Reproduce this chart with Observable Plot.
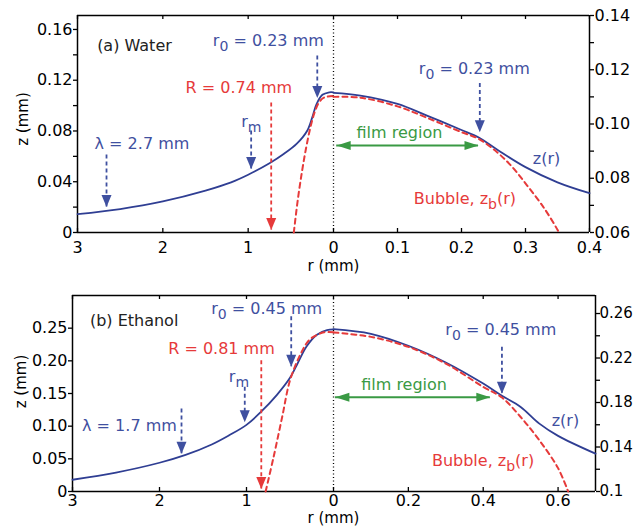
<!DOCTYPE html>
<html><head><meta charset="utf-8">
<script src="https://cdn.jsdelivr.net/npm/d3@7"></script>
<script src="https://cdn.jsdelivr.net/npm/@observablehq/plot@0.6"></script>
<style>
body{margin:0;background:#fff;}
#chart{position:relative;width:634px;height:527px;overflow:hidden;}
#chart svg{position:absolute;left:0;}
</style></head><body><div id="chart"></div>
<script>
// ---------- DATA (a) Water ----------
const waterLeftBlueR = [3, 2.5, 2, 1.5, 1.2, 1, 0.75, 0.58, 0.43, 0.31, 0.25, 0.2, 0.13, 0.05, 0];
const waterLeftBlueZ = [0.0145, 0.0185, 0.0245, 0.033, 0.0395, 0.0455, 0.0545, 0.062, 0.070, 0.080, 0.0905, 0.101, 0.1085, 0.1105, 0.1105];
const waterLeftRedR = [0.465, 0.42, 0.367, 0.32, 0.27, 0.22, 0.17, 0.12, 0.074, 0];
const waterLeftRedZ = [0, 0.025, 0.049, 0.067, 0.083, 0.095, 0.1025, 0.106, 0.107, 0.1075];
const waterRightBlueR = [0, 0.042, 0.1, 0.146, 0.2, 0.227, 0.256, 0.30, 0.35, 0.4];
const waterRightBlueZ = [0.1115, 0.1105, 0.1074, 0.1031, 0.0978, 0.0950, 0.0905, 0.0841, 0.0785, 0.0745];
const waterRightRedR = [0, 0.042, 0.1, 0.146, 0.2, 0.227, 0.256, 0.278, 0.302, 0.329, 0.35, 0.352];
const waterRightRedZ = [0.110, 0.1097, 0.1065, 0.1023, 0.097, 0.0945, 0.0895, 0.0845, 0.0775, 0.0690, 0.0610, 0.060];

// ---------- DATA (b) Ethanol ----------
const ethanolLeftBlueR = [3, 2.5, 2, 1.7, 1.4, 1.2, 1.0, 0.84, 0.65, 0.5, 0.42, 0.31, 0.19, 0.075, 0];
const ethanolLeftBlueZ = [0.018, 0.029, 0.044, 0.056, 0.072, 0.086, 0.102, 0.121, 0.148, 0.174, 0.194, 0.222, 0.240, 0.247, 0.248];
const ethanolLeftRedR = [0.78, 0.69, 0.59, 0.5, 0.38, 0.27, 0.11, 0];
const ethanolLeftRedZ = [0, 0.052, 0.114, 0.17, 0.21, 0.233, 0.2436, 0.2436];
const ethanolRightBlueR = [0, 0.1, 0.2, 0.3, 0.4, 0.45, 0.5, 0.55, 0.6, 0.7];
const ethanolRightBlueZ = [0.246, 0.2418, 0.231, 0.216, 0.197, 0.186, 0.176, 0.161, 0.150, 0.134];
const ethanolRightRedR = [0, 0.1, 0.2, 0.3, 0.4, 0.45, 0.5, 0.55, 0.6, 0.627];
const ethanolRightRedZ = [0.243, 0.239, 0.230, 0.215, 0.194, 0.1845, 0.167, 0.146, 0.121, 0.1];

// ---------- TICKS ----------
const waterLeftYTicks = [0, 0.02, 0.04, 0.06, 0.08, 0.10, 0.12, 0.14, 0.16];
const waterLeftYLabels = ["0", "", "0.04", "", "0.08", "", "0.12", "", "0.16"];
const waterRightYTicks = [0.06, 0.07, 0.08, 0.09, 0.10, 0.11, 0.12, 0.13, 0.14];
const waterRightYLabels = ["0.06", "", "0.08", "", "0.10", "", "0.12", "", "0.14"];
const ethanolLeftYTicks = [0, 0.05, 0.10, 0.15, 0.20, 0.25];
const ethanolLeftYLabels = ["0", "0.05", "0.10", "0.15", "0.20", "0.25"];
const ethanolRightYTicks = [0.10, 0.12, 0.14, 0.16, 0.18, 0.20, 0.22, 0.24, 0.26];
const ethanolRightYLabels = ["0.1", "", "0.14", "", "0.18", "", "0.22", "", "0.26"];
const leftXTicks = [3, 2, 1, 0];
const leftXLabels = ["3", "2", "1", "0"];
const waterRightXTicks = [0.1, 0.2, 0.3, 0.4];
const waterRightXLabels = ["0.1", "0.2", "0.3", "0.4"];
const ethanolRightXTicks = [0.2, 0.4, 0.6];
const ethanolRightXLabels = ["0.2", "0.4", "0.6"];

// ---------- ANNOTATIONS ----------
const waterLeftTexts = ["(a) Water", "r_{0} = 0.23 mm", "R = 0.74 mm", "r_{m}", "λ = 2.7 mm"];
const waterLeftTextKinds = ["title", "blue", "red", "blue", "blue"];
const waterLeftTextR = [2.77, 1.414, 1.734, 1.082, 2.80];
const waterLeftTextZ = [0.147, 0.1513, 0.1143, 0.0875, 0.070];
const waterLeftArrowKinds = ["blue", "red", "blue", "blue"];
const waterLeftArrowR = [0.19, 0.73, 0.965, 2.66];
const waterLeftArrowTop = [0.139, 0.102, 0.080, 0.061];
const waterLeftArrowTip = [0.106, 0.002, 0.050, 0.020];

const waterRightTexts = ["r_{0} = 0.23 mm", "film region", "z(r)", "Bubble, z_{b}(r)"];
const waterRightTextKinds = ["blue", "green", "blue", "red"];
const waterRightTextR = [0.1333, 0.036, 0.3115, 0.1255];
const waterRightTextZ = [0.1205, 0.0969, 0.0873, 0.0725];
const waterRightArrowKinds = ["blue"];
const waterRightArrowR = [0.2286];
const waterRightArrowTop = [0.1149];
const waterRightArrowTip = [0.097];
const waterFilm = {r1: 0.005, r2: 0.2266, z: 0.0921};

const ethanolLeftTexts = ["(b) Ethanol", "r_{0} = 0.45 mm", "R = 0.81 mm", "r_{m}", "λ = 1.7 mm"];
const ethanolLeftTextKinds = ["title", "blue", "red", "blue", "blue"];
const ethanolLeftTextR = [2.80, 1.406, 1.90, 1.203, 2.89];
const ethanolLeftTextZ = [0.2615, 0.2794, 0.218, 0.175, 0.101];
const ethanolLeftArrowKinds = ["blue", "red", "blue", "blue"];
const ethanolLeftArrowR = [0.486, 0.83, 1.02, 1.747];
const ethanolLeftArrowTop = [0.2676, 0.2003, 0.1595, 0.1264];
const ethanolLeftArrowTip = [0.191, 0.004, 0.106, 0.0576];

const ethanolRightTexts = ["r_{0} = 0.45 mm", "film region", "z(r)", "Bubble, z_{b}(r)"];
const ethanolRightTextKinds = ["blue", "green", "blue", "red"];
const ethanolRightTextR = [0.2987, 0.074, 0.583, 0.263];
const ethanolRightTextZ = [0.2453, 0.1959, 0.1638, 0.1279];
const ethanolRightArrowKinds = ["blue"];
const ethanolRightArrowR = [0.45];
const ethanolRightArrowTop = [0.2297];
const ethanolRightArrowTip = [0.1878];
const ethanolFilm = {r1: 0.005, r2: 0.419, z: 0.1848};

// ---------- STYLE ----------
const COLORS = {line: "#2f3e93", blue: "#3f50a0", red: "#e63a3a", green: "#3a9a44", title: "#222"};
const FONT = "DejaVu Sans";
const headV = {draw(ctx) { ctx.moveTo(0, 0); ctx.lineTo(-5, -12); ctx.lineTo(5, -12); ctx.closePath(); }};
const headH = {draw(ctx) { ctx.moveTo(0, 0); ctx.lineTo(-4.5, -14); ctx.lineTo(4.5, -14); ctx.closePath(); }};

function zip(a, b) { return a.map((r, i) => ({r, z: b[i]})); }
function fmtFrom(ticks, labels) {
  return d => { const k = ticks.findIndex(t => Math.abs(t - d) < 1e-9); return k >= 0 ? labels[k] : ""; };
}

function side(o) {
  const H = o.height - o.marginTop - o.marginBottom;
  const [y0, y1] = o.yDomain;
  const texts = o.texts.map((t, i) => ({t, r: o.textR[i], z: o.textZ[i], c: COLORS[o.textKinds[i]]}));
  const arrows = o.arrowR.map((r, i) => ({r, top: o.arrowTop[i], tip: o.arrowTip[i], c: COLORS[o.arrowKinds[i]]}));
  const marks = [
    Plot.ruleY([y0, y1], {stroke: "black", strokeWidth: 1.5}),
    Plot.ruleX([o.xEdge], {stroke: "black", strokeWidth: 1.5}),
    Plot.ruleX(o.xTicks, {insetTop: H - 4, stroke: "black", strokeWidth: 1.3}),
    Plot.ruleX(o.xTicks, {insetBottom: H - 4, stroke: "black", strokeWidth: 1.3}),
    Plot.axisY({anchor: o.yAnchor, ticks: o.yTicks, tickSize: 4, tickPadding: o.yPad ?? 1, strokeWidth: 1.3,
      tickFormat: fmtFrom(o.yTicks, o.yLabels), label: null, fontSize: o.yFont ?? 16}),
    Plot.axisX({anchor: "bottom", ticks: o.xLabelTicks, tickSize: 0, tickPadding: o.xPad,
      tickFormat: fmtFrom(o.xLabelTicks, o.xLabels), label: null, fontSize: 16}),
    Plot.line(zip(o.blueR, o.blueZ), {x: "r", y: "z", stroke: COLORS.line, strokeWidth: 1.8, curve: "catmull-rom"}),
    Plot.line(zip(o.redR, o.redZ), {x: "r", y: "z", stroke: COLORS.red, strokeWidth: 2, strokeDasharray: "5,4", curve: "catmull-rom"}),
    Plot.ruleX(arrows, {x: "r", y1: "top", y2: "tip", stroke: "c", strokeWidth: 1.8, strokeDasharray: "4,3"}),
    Plot.dot(arrows, {x: "r", y: "tip", r: 5, symbol: headV, fill: "c", stroke: null}),
    Plot.text(texts, {x: "r", y: "z", text: "t", fill: "c", textAnchor: "start", lineAnchor: "middle", fontSize: 16})
  ];
  if (o.divider) marks.push(Plot.ruleX([0], {stroke: "black", strokeWidth: 1.3, strokeDasharray: "1,2.5"}));
  if (o.film) {
    const f = [o.film];
    marks.push(
      Plot.ruleY(f, {y: "z", x1: "r1", x2: "r2", stroke: COLORS.green, strokeWidth: 2}),
      Plot.dot(f, {x: "r1", y: "z", r: 5, symbol: headH, rotate: 90, fill: COLORS.green, stroke: null}),
      Plot.dot(f, {x: "r2", y: "z", r: 5, symbol: headH, rotate: -90, fill: COLORS.green, stroke: null})
    );
  }
  if (o.xTitle) marks.push(Plot.text([o.xTitle], {frameAnchor: "bottom-left", dy: o.xTitleDy, textAnchor: "middle", fontSize: 15, fill: "black"}));
  if (o.yTitle) marks.push(Plot.text([o.yTitle], {frameAnchor: "left", dx: o.yTitleDx, dy: o.yTitleDy, rotate: -90, textAnchor: "middle", fontSize: 15, fill: "black"}));
  const svg = Plot.plot({
    width: 634, height: o.height,
    marginLeft: o.marginLeft, marginRight: o.marginRight, marginTop: o.marginTop, marginBottom: o.marginBottom,
    x: {domain: o.xDomain}, y: {domain: o.yDomain},
    color: {type: "identity"},
    style: {background: "transparent", fontFamily: FONT, fontSize: "16px", color: "black", overflow: "visible"},
    marks
  });
  d3.select(svg).selectAll("text").each(function() {
    const m = this.textContent.match(/^(.*?)_\{(.*?)\}(.*)$/);
    if (!m) return;
    const s = d3.select(this);
    s.text(null);
    s.append("tspan").text(m[1]);
    s.append("tspan").attr("dy", 5).attr("font-size", "14px").text(m[2]);
    s.append("tspan").attr("dy", -5).text(m[3]);
  });
  svg.style.top = o.top + "px";
  document.getElementById("chart").appendChild(svg);
}

// (a) Water
side({top: 0, height: 285, marginTop: 15, marginBottom: 53, marginLeft: 77, marginRight: 301,
  xDomain: [3, 0], yDomain: [0, 0.171], xEdge: 3, divider: true, yAnchor: "left", xPad: 9,
  yTicks: waterLeftYTicks, yLabels: waterLeftYLabels, xTicks: leftXTicks, xLabelTicks: leftXTicks, xLabels: leftXLabels,
  blueR: waterLeftBlueR, blueZ: waterLeftBlueZ, redR: waterLeftRedR, redZ: waterLeftRedZ,
  texts: waterLeftTexts, textKinds: waterLeftTextKinds, textR: waterLeftTextR, textZ: waterLeftTextZ,
  arrowKinds: waterLeftArrowKinds, arrowR: waterLeftArrowR, arrowTop: waterLeftArrowTop, arrowTip: waterLeftArrowTip,
  yTitle: "z (mm)", yTitleDx: -54, yTitleDy: -5});
side({top: 0, height: 285, marginTop: 15, marginBottom: 53, marginLeft: 333, marginRight: 45,
  xDomain: [0, 0.4], yDomain: [0.06, 0.14], xEdge: 0.4, yAnchor: "right", xPad: 9,
  yTicks: waterRightYTicks, yLabels: waterRightYLabels, xTicks: waterRightXTicks, xLabelTicks: waterRightXTicks, xLabels: waterRightXLabels,
  blueR: waterRightBlueR, blueZ: waterRightBlueZ, redR: waterRightRedR, redZ: waterRightRedZ,
  texts: waterRightTexts, textKinds: waterRightTextKinds, textR: waterRightTextR, textZ: waterRightTextZ,
  arrowKinds: waterRightArrowKinds, arrowR: waterRightArrowR, arrowTop: waterRightArrowTop, arrowTip: waterRightArrowTip,
  film: waterFilm, xTitle: "r (mm)", xTitleDy: 38});

// (b) Ethanol
side({top: 285, height: 242, marginTop: 10, marginBottom: 36, marginLeft: 72, marginRight: 301,
  xDomain: [3, 0], yDomain: [0, 0.30], xEdge: 3, divider: true, yAnchor: "left", xPad: 3,
  yTicks: ethanolLeftYTicks, yLabels: ethanolLeftYLabels, xTicks: leftXTicks, xLabelTicks: leftXTicks, xLabels: leftXLabels,
  blueR: ethanolLeftBlueR, blueZ: ethanolLeftBlueZ, redR: ethanolLeftRedR, redZ: ethanolLeftRedZ,
  texts: ethanolLeftTexts, textKinds: ethanolLeftTextKinds, textR: ethanolLeftTextR, textZ: ethanolLeftTextZ,
  arrowKinds: ethanolLeftArrowKinds, arrowR: ethanolLeftArrowR, arrowTop: ethanolLeftArrowTop, arrowTip: ethanolLeftArrowTip,
  yTitle: "z (mm)", yTitleDx: -51, yTitleDy: -12});
side({top: 285, height: 242, marginTop: 10, marginBottom: 36, marginLeft: 333, marginRight: 39,
  xDomain: [0, 0.7], yDomain: [0.1, 0.2762], xEdge: 0.7, yAnchor: "right", yPad: 0, yFont: 15, xPad: 3,
  yTicks: ethanolRightYTicks, yLabels: ethanolRightYLabels, xTicks: ethanolRightXTicks, xLabelTicks: ethanolRightXTicks, xLabels: ethanolRightXLabels,
  blueR: ethanolRightBlueR, blueZ: ethanolRightBlueZ, redR: ethanolRightRedR, redZ: ethanolRightRedZ,
  texts: ethanolRightTexts, textKinds: ethanolRightTextKinds, textR: ethanolRightTextR, textZ: ethanolRightTextZ,
  arrowKinds: ethanolRightArrowKinds, arrowR: ethanolRightArrowR, arrowTop: ethanolRightArrowTop, arrowTip: ethanolRightArrowTip,
  film: ethanolFilm, xTitle: "r (mm)", xTitleDy: 31});
</script></body></html>
